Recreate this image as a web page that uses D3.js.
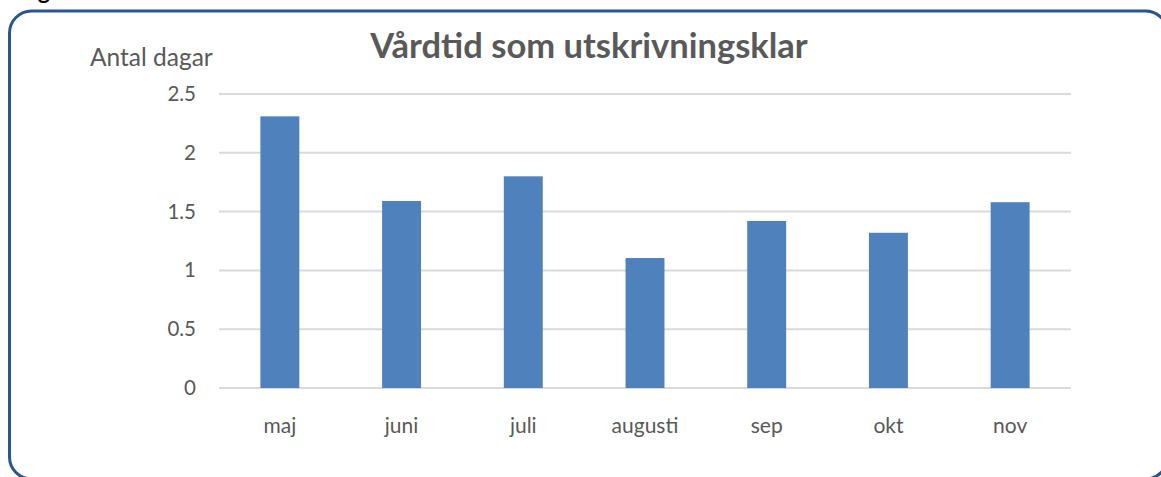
<!DOCTYPE html>
<html>
<head>
<meta charset="utf-8">
<script src="https://cdn.jsdelivr.net/npm/d3@7"></script>
<style>
  body { margin: 0; background: #fff; overflow: hidden; }
  text { font-family: Lato, "Open Sans", sans-serif; }
</style>
</head>
<body>
<div id="chart"></div>
<script>
// Chart data
const months = ["maj", "juni", "juli", "augusti", "sep", "okt", "nov"];
const days = [2.31, 1.59, 1.80, 1.105, 1.42, 1.32, 1.58];
const yTicks = [0, 0.5, 1, 1.5, 2, 2.5];

const svgWidth = 1161;
const svgHeight = 477;

let svg = d3.select("#chart")
    .append("svg")
    .attr("width", svgWidth)
    .attr("height", svgHeight)
    .style("display", "block");

// Cut-off caption above the frame
svg.append("text")
    .attr("x", 19)
    .attr("y", -1)
    .style("font-size", "23px")
    .style("font-weight", "bold")
    .attr("fill", "#000")
    .text("Figur");

// Rounded frame (right and bottom edges run just past the picture)
svg.append("rect")
    .attr("x", 9.5)
    .attr("y", 11)
    .attr("width", 1158)
    .attr("height", 468)
    .attr("rx", 22)
    .attr("fill", "none")
    .attr("stroke", "#2a5590")
    .attr("stroke-width", 3);

let margin = { top: 94, left: 219 };
let width = 852;
let height = 294;

let chartGroup = svg.append("g")
    .attr("transform", `translate(${margin.left}, ${margin.top})`);

let xScale = d3.scaleBand()
    .domain(months)
    .range([0, width])
    .paddingInner(0.68)
    .paddingOuter(0.34);

let yScale = d3.scaleLinear()
    .domain([0, 2.5])
    .range([height, 0]);

// Gridlines
chartGroup.append("g")
    .selectAll("line")
    .data(yTicks)
    .enter()
    .append("line")
    .attr("x1", 0)
    .attr("x2", width)
    .attr("y1", d => yScale(d))
    .attr("y2", d => yScale(d))
    .attr("stroke", "#d9d9d9")
    .attr("stroke-width", 2);

// Bars
chartGroup.selectAll("rect")
    .data(days)
    .enter()
    .append("rect")
    .attr("x", (d, i) => xScale(months[i]))
    .attr("y", d => yScale(d))
    .attr("width", xScale.bandwidth())
    .attr("height", d => height - yScale(d))
    .attr("fill", "#4f81bd");

// Y axis
let leftAxis = d3.axisLeft(yScale)
    .tickValues(yTicks)
    .tickFormat(d3.format("~g"))
    .tickSize(0)
    .tickPadding(23);

let yAxis = chartGroup.append("g").call(leftAxis);
yAxis.select(".domain").remove();
yAxis.selectAll("text")
    .style("font-size", "20.5px")
    .style("font-family", "Lato")
    .attr("fill", "#595959");

// X axis
let bottomAxis = d3.axisBottom(xScale)
    .tickSize(0)
    .tickPadding(30);

let xAxis = chartGroup.append("g")
    .attr("transform", `translate(0, ${height})`)
    .call(bottomAxis);
xAxis.select(".domain").remove();
xAxis.selectAll("text")
    .style("font-size", "21px")
    .style("font-family", "Lato")
    .attr("fill", "#595959");

// Axis title
svg.append("text")
    .attr("x", 90)
    .attr("y", 66)
    .style("font-size", "24.5px")
    .attr("fill", "#595959")
    .text("Antal dagar");

// Chart title
svg.append("text")
    .attr("x", 589)
    .attr("y", 58)
    .attr("text-anchor", "middle")
    .style("font-size", "34.5px")
    .style("font-weight", "bold")
    .attr("fill", "#595959")
    .text("Vårdtid som utskrivningsklar");
</script>
</body>
</html>
